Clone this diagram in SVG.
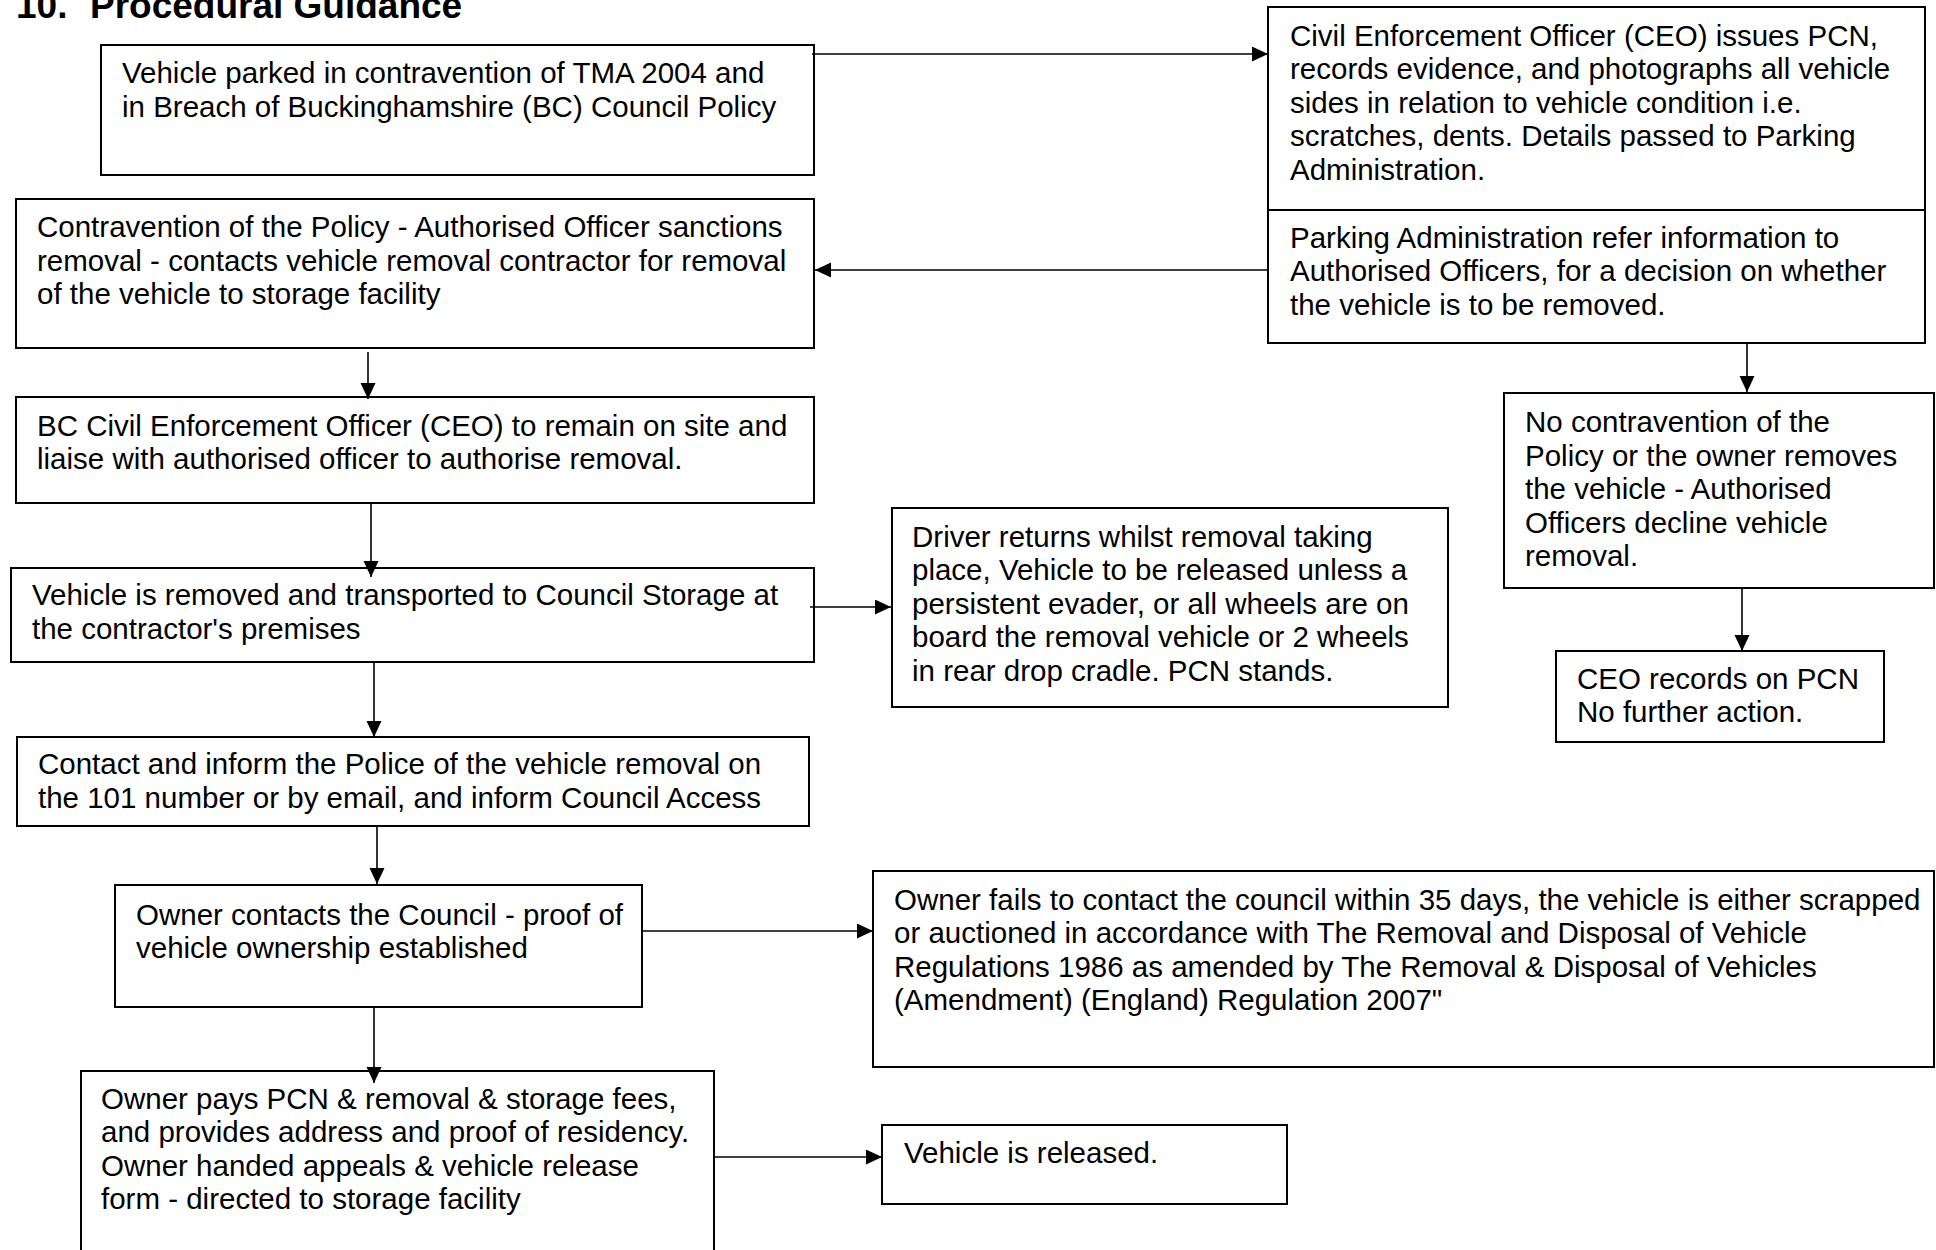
<svg xmlns="http://www.w3.org/2000/svg" width="1936" height="1250" viewBox="0 0 1936 1250">
<defs>
<style>
.box{fill:#fff;stroke:#000;stroke-width:2}
.t{font-family:"Liberation Sans",Arial,sans-serif;font-size:29.5px;fill:#000}
.title{font-family:"Liberation Sans",Arial,sans-serif;font-size:37px;font-weight:bold;fill:#000}
.c{stroke:#000;stroke-width:1.6;fill:none;marker-end:url(#ah)}
</style>
<marker id="ah" markerUnits="userSpaceOnUse" markerWidth="18" markerHeight="16" refX="16" refY="7.5" orient="auto">
<path d="M0,0 L16,7.5 L0,15 Z" fill="#000"/>
</marker>
</defs>
<rect width="1936" height="1250" fill="#fff"/>
<text class="title" x="16" y="18">10.<tspan x="90">Procedural Guidance</tspan></text>

<g id="n1">
<rect class="box" x="101" y="45" width="713" height="130"/>
<text class="t" x="122" y="83">Vehicle parked in contravention of TMA 2004 and</text>
<text class="t" x="122" y="117">in Breach of Buckinghamshire (BC) Council Policy</text>
</g>

<g id="n2">
<rect class="box" x="1268" y="7" width="657" height="336"/>
<line x1="1268" y1="210" x2="1925" y2="210" stroke="#000" stroke-width="2"/>
<text class="t" x="1290" y="45.5">Civil Enforcement Officer (CEO) issues PCN,</text>
<text class="t" x="1290" y="79">records evidence, and photographs all vehicle</text>
<text class="t" x="1290" y="112.5">sides in relation to vehicle condition i.e.</text>
<text class="t" x="1290" y="146">scratches, dents. Details passed to Parking</text>
<text class="t" x="1290" y="179.5">Administration.</text>
<text class="t" x="1290" y="247.5">Parking Administration refer information to</text>
<text class="t" x="1290" y="281">Authorised Officers, for a decision on whether</text>
<text class="t" x="1290" y="314.5">the vehicle is to be removed.</text>
</g>

<g id="n3">
<rect class="box" x="16" y="199" width="798" height="149"/>
<text class="t" x="37" y="237">Contravention of the Policy - Authorised Officer sanctions</text>
<text class="t" x="37" y="270.5">removal - contacts vehicle removal contractor for removal</text>
<text class="t" x="37" y="304">of the vehicle to storage facility</text>
</g>

<g id="n4">
<rect class="box" x="16" y="397" width="798" height="106"/>
<text class="t" x="37" y="435.5">BC Civil Enforcement Officer (CEO) to remain on site and</text>
<text class="t" x="37" y="469">liaise with authorised officer to authorise removal.</text>
</g>

<g id="n5">
<rect class="box" x="1504" y="393" width="430" height="195"/>
<text class="t" x="1525" y="432">No contravention of the</text>
<text class="t" x="1525" y="465.5">Policy or the owner removes</text>
<text class="t" x="1525" y="499">the vehicle - Authorised</text>
<text class="t" x="1525" y="532.5">Officers decline vehicle</text>
<text class="t" x="1525" y="566">removal.</text>
</g>

<g id="n6">
<rect class="box" x="11" y="568" width="803" height="94"/>
<text class="t" x="32" y="605">Vehicle is removed and transported to Council Storage at</text>
<text class="t" x="32" y="638.5">the contractor's premises</text>
</g>

<g id="n7">
<rect class="box" x="892" y="508" width="556" height="199"/>
<text class="t" x="912" y="546.5">Driver returns whilst removal taking</text>
<text class="t" x="912" y="580">place, Vehicle to be released unless a</text>
<text class="t" x="912" y="613.5">persistent evader, or all wheels are on</text>
<text class="t" x="912" y="647">board the removal vehicle or 2 wheels</text>
<text class="t" x="912" y="680.5">in rear drop cradle. PCN stands.</text>
</g>

<g id="n8">
<rect class="box" x="1556" y="651" width="328" height="91"/>
<text class="t" x="1577" y="688.5">CEO records on PCN</text>
<text class="t" x="1577" y="722">No further action.</text>
</g>

<g id="n9">
<rect class="box" x="17" y="737" width="792" height="89"/>
<text class="t" x="38" y="774">Contact and inform the Police of the vehicle removal on</text>
<text class="t" x="38" y="807.5">the 101 number or by email, and inform Council Access</text>
</g>

<g id="n10">
<rect class="box" x="115" y="885" width="527" height="122"/>
<text class="t" x="136" y="924.5">Owner contacts the Council - proof of</text>
<text class="t" x="136" y="958">vehicle ownership established</text>
</g>

<g id="n11">
<rect class="box" x="873" y="871" width="1061" height="196"/>
<text class="t" x="894" y="909.5">Owner fails to contact the council within 35 days, the vehicle is either scrapped</text>
<text class="t" x="894" y="943">or auctioned in accordance with The Removal and Disposal of Vehicle</text>
<text class="t" x="894" y="976.5">Regulations 1986 as amended by The Removal &amp; Disposal of Vehicles</text>
<text class="t" x="894" y="1010">(Amendment) (England) Regulation 2007"</text>
</g>

<g id="n12">
<rect class="box" x="81" y="1071" width="633" height="200"/>
<text class="t" x="101" y="1108.5">Owner pays PCN &amp; removal &amp; storage fees,</text>
<text class="t" x="101" y="1142">and provides address and proof of residency.</text>
<text class="t" x="101" y="1175.5">Owner handed appeals &amp; vehicle release</text>
<text class="t" x="101" y="1209">form - directed to storage facility</text>
</g>

<g id="n13">
<rect class="box" x="882" y="1125" width="405" height="79"/>
<text class="t" x="904" y="1163">Vehicle is released.</text>
</g>

<g id="connectors">
<line class="c" x1="812" y1="54" x2="1268" y2="54"/>
<line class="c" x1="1268" y1="270" x2="815" y2="270"/>
<line class="c" x1="1747" y1="343" x2="1747" y2="392"/>
<line class="c" x1="368" y1="352" x2="368" y2="399"/>
<line class="c" x1="371" y1="502" x2="371" y2="577"/>
<line class="c" x1="810" y1="607" x2="891" y2="607"/>
<line class="c" x1="1742" y1="588" x2="1742" y2="651"/>
<line class="c" x1="374" y1="662" x2="374" y2="737"/>
<line class="c" x1="377" y1="826" x2="377" y2="884"/>
<line class="c" x1="642" y1="931" x2="873" y2="931"/>
<line class="c" x1="374" y1="1007" x2="374" y2="1083"/>
<line class="c" x1="714" y1="1157" x2="882" y2="1157"/>
</g>
</svg>
